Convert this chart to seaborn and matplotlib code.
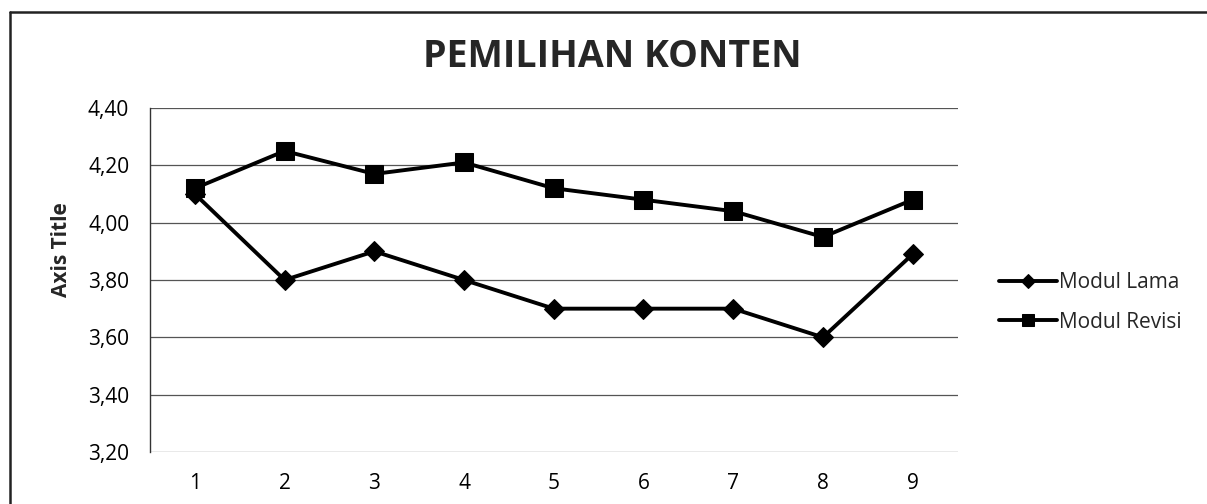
import seaborn as sns
import matplotlib.pyplot as plt
import pandas as pd
from matplotlib.ticker import FuncFormatter
from matplotlib.lines import Line2D

# data
items = [1, 2, 3, 4, 5, 6, 7, 8, 9]
modul_lama = [4.10, 3.80, 3.90, 3.80, 3.70, 3.70, 3.70, 3.60, 3.89]
modul_revisi = [4.12, 4.25, 4.17, 4.21, 4.12, 4.08, 4.04, 3.95, 4.08]
series_names = ['Modul Lama', 'Modul Revisi']
y_ticks = [3.20, 3.40, 3.60, 3.80, 4.00, 4.20, 4.40]

df = pd.DataFrame({
    'Item': items * 2,
    'Nilai': modul_lama + modul_revisi,
    'Modul': [series_names[0]] * len(items) + [series_names[1]] * len(items),
})

sns.set_style("white")
plt.rcParams['font.family'] = ['Open Sans', 'DejaVu Sans']

fig = plt.figure(figsize=(12.07, 5.04), dpi=100)
ax = fig.add_axes([0.1243, 0.1032, 0.669, 0.6825])

sns.lineplot(data=df, x='Item', y='Nilai', hue='Modul', style='Modul',
             markers={'Modul Lama': 'D', 'Modul Revisi': 's'}, dashes=False,
             palette=['black', 'black'], linewidth=2.8, markersize=11,
             markeredgecolor='black', ax=ax, legend=True)
for line in ax.get_lines():
    if line.get_marker() == 's':
        line.set_markersize(13)
    elif line.get_marker() == 'D':
        line.set_markersize(10)

ax.set_xlim(0.5, 9.5)
ax.set_ylim(3.20, 4.40)
ax.set_xticks(items)
ax.set_yticks(y_ticks)
ax.yaxis.set_major_formatter(FuncFormatter(lambda v, p: f"{v:.2f}".replace('.', ',')))
ax.grid(True, axis='y', color='#555555', linewidth=0.9)
ax.set_axisbelow(True)
for s in ['top', 'right', 'bottom']:
    ax.spines[s].set_visible(False)
ax.spines['left'].set_color('#333333')
ax.spines['left'].set_linewidth(1.0)
ax.tick_params(axis='both', length=0, labelsize=15, colors='black')
ax.tick_params(axis='x', pad=15)
ax.tick_params(axis='y', pad=15)
ax.set_xlabel('')
ax.set_ylabel('Axis Title', fontsize=15, fontweight='bold')
ax.yaxis.set_label_coords(-0.097, 0.587)

handles, labels = ax.get_legend_handles_labels()
leg = ax.legend(handles, labels, loc='center left', bbox_to_anchor=(0.812, 0.40),
                bbox_transform=fig.transFigure, frameon=False, fontsize=15,
                handlelength=2.8, handletextpad=0.1, labelspacing=0.9,
                markerscale=0.7)

fig.text(0.507, 0.887, 'PEMILIHAN KONTEN', ha='center', va='center',
         fontsize=27, fontweight='bold')

# scanned chart frame: top and left edges only
fig.add_artist(Line2D([10 / 1207, 1.0], [1 - 12 / 504, 1 - 12 / 504],
                      transform=fig.transFigure, color='#222222', linewidth=1.8))
fig.add_artist(Line2D([10 / 1207, 10 / 1207], [0.0, 1 - 12 / 504],
                      transform=fig.transFigure, color='#222222', linewidth=1.8))

fig.savefig('out.png', dpi=100)
